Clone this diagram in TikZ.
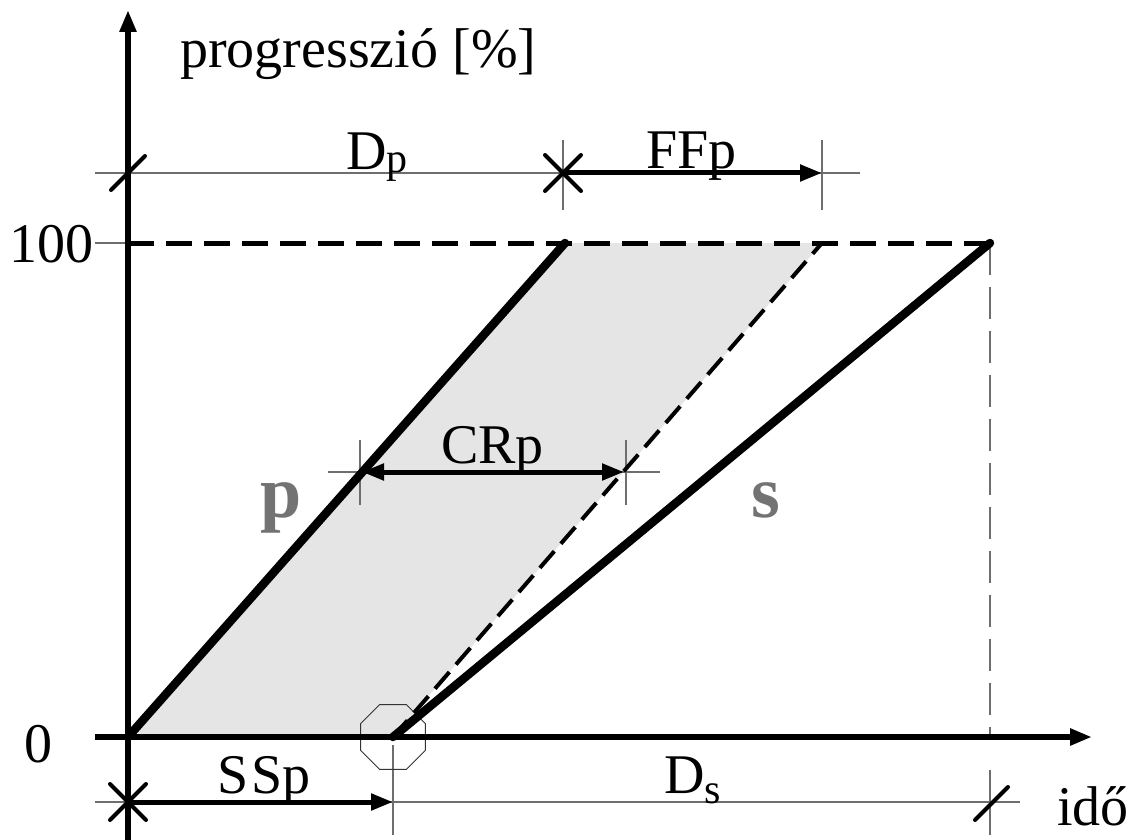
\documentclass[tikz,border=0pt]{standalone}
\usepackage{fontspec}
\setmainfont{Liberation Serif}
\usetikzlibrary{arrows.meta,shapes.geometric,calc}
\definecolor{bandgray}{HTML}{E5E5E5}
\definecolor{thinc}{HTML}{6E6E6E}
\newcommand{\subp}[2]{\raisebox{#2}{\fontsize{42}{44}\selectfont #1}}
\begin{document}
\begin{tikzpicture}[x=1pt,y=-1pt,
  thinline/.style={draw=thinc,line width=1.2pt},
  heavy/.style={draw=black,line width=8.5pt,line cap=round},
  axis/.style={draw=black,line width=5.5pt,-{Triangle[length=22pt,width=16pt]}},
  dimarrow/.style={draw=black,line width=5pt,-{Triangle[length=22pt,width=16pt]}},
  markline/.style={draw=black,line width=4pt,line cap=round},
  lbl/.style={font=\fontsize{56}{60}\selectfont,inner sep=0pt,anchor=base west},
  big/.style={font=\fontsize{74}{80}\selectfont\bfseries,text=gray!90!black,inner sep=0pt,anchor=base west}]
\useasboundingbox (0,0) rectangle (1133,840);
% coordinates
\coordinate (O) at (128,737);
\coordinate (S0) at (393,737);
\coordinate (P1) at (565,243);
\coordinate (Q1) at (822,243);
\coordinate (S1) at (990,243);
\coordinate (Yb) at (128,840);
\coordinate (Yt) at (128,10);
\coordinate (Xb) at (95,737);
\coordinate (Xt) at (1092,737);
\coordinate (DpL) at (95,173);
\coordinate (DpR) at (860,173);
\coordinate (DpA) at (128,173);
\coordinate (FFa) at (563,173);
\coordinate (FFb) at (822,173);
\coordinate (BL) at (95,802);
\coordinate (BR) at (1020,802);
\coordinate (SSa) at (128,802);
\coordinate (SSb) at (393,802);
\coordinate (DsE) at (990,802);
\coordinate (CRL) at (328,472);
\coordinate (CRR) at (660,472);
\coordinate (CRa) at (362,472);
\coordinate (CRb) at (624,472);
\coordinate (HL) at (95,243);
% shaded band
\fill[bandgray] (O) -- (P1) -- (Q1) -- (S0) -- cycle;
% thin dimension lines
\draw[thinline] (DpL) -- (DpR);
\draw[thinline] (BL) -- (BR);
\draw[thinline] (CRL) -- (CRR);
\draw[thinline] (HL) -- (O |- HL);
\draw[thinline] (563,140) -- (563,210);
\draw[thinline] (822,140) -- (822,210);
\draw[thinline] (360,440) -- (360,505);
\draw[thinline] (626,440) -- (626,505);
\draw[thinline] (393,745) -- (393,835);
\draw[thinline] (990,770) -- (990,835);
\draw[thinline,dash pattern=on 32pt off 12pt] (S1) -- (990,735);
% octagon
\node[regular polygon,regular polygon sides=8,draw=black!80,line width=1pt,minimum size=70pt,inner sep=0pt] (oct) at (S0) {};
% 100 dashed line and dashed diagonal
\draw[black,line width=5pt,dash pattern=on 26pt off 12pt] (O |- S1) -- (S1);
\draw[black,line width=4pt,dash pattern=on 22pt off 10pt] (S0) -- (Q1);
% heavy lines
\draw[heavy] (O) -- (P1);
\draw[heavy] (S0) -- (S1);
% axes
\draw[axis] (Yb) -- (Yt);
\draw[axis] (Xb) -- (Xt);
\draw[black,line width=5.5pt,line cap=round] (O) -- (S0);
% dimension arrows
\draw[dimarrow] (FFa) -- (FFb);
\draw[dimarrow] (SSa) -- (SSb);
\draw[draw=black,line width=5pt,{Triangle[length=22pt,width=16pt]}-{Triangle[length=22pt,width=16pt]}] (CRa) -- (CRb);
% marks
\draw[markline] ($(FFa)+(-18,-18)$) -- ($(FFa)+(18,18)$);
\draw[markline] ($(FFa)+(-18,18)$) -- ($(FFa)+(18,-18)$);
\draw[markline] ($(SSa)+(-18,-18)$) -- ($(SSa)+(18,18)$);
\draw[markline] ($(SSa)+(-18,18)$) -- ($(SSa)+(18,-18)$);
\draw[markline] ($(DpA)+(-17,17)$) -- ($(DpA)+(17,-17)$);
\draw[markline] ($(DsE)+(-15,18)$) -- ($(DsE)+(18,-15)$);
% labels
\node[lbl] (ylab) at (180,68) {progresszió [\%]};
\node[lbl] (dp) at (346,170) {D\subp{p}{-3pt}};
\node[lbl] (ff) at (646,168) {FFp};
\node[lbl] (cr) at (441,463) {CRp};
\node[lbl] (ss) at (217,793) {S\kern3pt Sp};
\node[lbl] (ds) at (664,793) {D\subp{s}{-10pt}};
\node[lbl,anchor=base east] (h) at (94,262) {100};
\node[lbl] (z) at (24,762) {0};
\node[lbl] (ido) at (1057,825) {idő};
\node[big] (p) at (260,517) {p};
\node[big] (s) at (751,517) {s};
\end{tikzpicture}
\end{document}
